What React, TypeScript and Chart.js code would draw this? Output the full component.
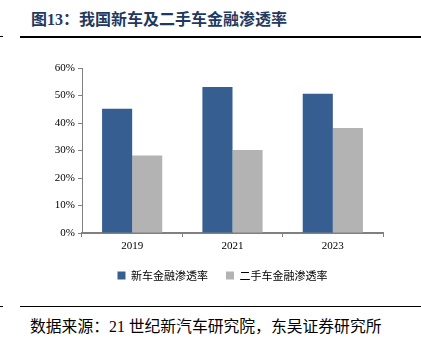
import React, { useEffect, useRef } from "react";
import { Chart, registerables } from "chart.js";

Chart.register(...registerables);

const years = ["2019", "2021", "2023"];
const newCarRate = [45.2, 53.1, 50.6];
const usedCarRate = [28.2, 30.2, 38.2];
const seriesNames = ["新车金融渗透率", "二手车金融渗透率"];
const yTicks = [0, 10, 20, 30, 40, 50, 60];

const LATIN = '"Liberation Serif", "Times New Roman", "Noto Sans CJK SC", serif';

const legendShift = {
  id: "legendShift",
  afterLayout(chart: any) {
    const lg = chart.legend;
    if (lg) {
      lg.left += 16;
      lg.right += 16;
    }
  },
};

export default function App() {
  const ref = useRef<HTMLCanvasElement | null>(null);

  useEffect(() => {
    if (!ref.current) return;
    const chart = new Chart(ref.current, {
      type: "bar",
      data: {
        labels: years,
        datasets: [
          {
            label: seriesNames[0],
            data: newCarRate,
            backgroundColor: "#365E91",
            categoryPercentage: 0.6,
            barPercentage: 1.0,
          },
          {
            label: seriesNames[1],
            data: usedCarRate,
            backgroundColor: "#B3B3B3",
            categoryPercentage: 0.6,
            barPercentage: 1.0,
          },
        ],
      },
      plugins: [legendShift],
      options: {
        animation: false,
        responsive: false,
        maintainAspectRatio: false,
        layout: { padding: { left: 30, right: 38, top: 18, bottom: 4 } },
        plugins: {
          tooltip: { enabled: false },
          legend: {
            position: "bottom",
            labels: {
              boxWidth: 8,
              boxHeight: 8,
              padding: 18,
              color: "#000",
              font: { family: '"Noto Sans CJK SC", sans-serif', size: 11 },
            },
          },
        },
        scales: {
          x: {
            grid: {
              offset: true,
              drawOnChartArea: false,
              drawTicks: true,
              tickLength: 4,
              color: "#808080",
            },
            border: { color: "#808080", width: 2 },
            ticks: {
              color: "#000",
              font: { family: LATIN, size: 11 },
              padding: 3,
            },
            afterFit: (s: any) => {
              s.height = 19;
            },
          },
          y: {
            min: 0,
            max: 60,
            afterBuildTicks: (s: any) => {
              s.ticks = yTicks.map((v) => ({ value: v }));
            },
            grid: {
              drawOnChartArea: false,
              drawTicks: true,
              tickLength: 4,
              color: "#808080",
            },
            border: { color: "#808080", width: 1 },
            ticks: {
              color: "#000",
              font: { family: LATIN, size: 11 },
              padding: 3,
              callback: (v: any) => v + "%",
            },
            afterFit: (s: any) => {
              s.width = 52;
            },
          },
        },
      },
    });
    return () => chart.destroy();
  }, []);

  return (
    <div
      style={{
        position: "absolute",
        left: 0,
        top: 0,
        width: 421,
        height: 351,
        background: "#fff",
        overflow: "hidden",
      }}
    >
      <div
        style={{
          position: "absolute",
          left: 31,
          top: 10,
          fontFamily: LATIN,
          fontWeight: "bold",
          fontSize: 16,
          color: "#1F3A60",
          whiteSpace: "nowrap",
          lineHeight: "20px",
        }}
      >
        图13：我国新车及二手车金融渗透率
      </div>
      <div style={{ position: "absolute", left: 0, top: 36, width: 3, height: 1, background: "#000" }} />
      <div style={{ position: "absolute", left: 20, top: 36, width: 401, height: 2, background: "#000" }} />
      <canvas
        ref={ref}
        width={421}
        height={245}
        style={{ position: "absolute", left: 0, top: 50, width: 421, height: 245 }}
      />
      <div style={{ position: "absolute", left: 0, top: 306, width: 3, height: 1, background: "#000" }} />
      <div style={{ position: "absolute", left: 20, top: 306, width: 401, height: 1, background: "#000" }} />
      <div
        style={{
          position: "absolute",
          left: 30,
          top: 317,
          fontFamily: LATIN,
          fontSize: 15.8,
          color: "#000",
          whiteSpace: "nowrap",
          lineHeight: "20px",
        }}
      >
        数据来源：21 世纪新汽车研究院，东吴证券研究所
      </div>
    </div>
  );
}
